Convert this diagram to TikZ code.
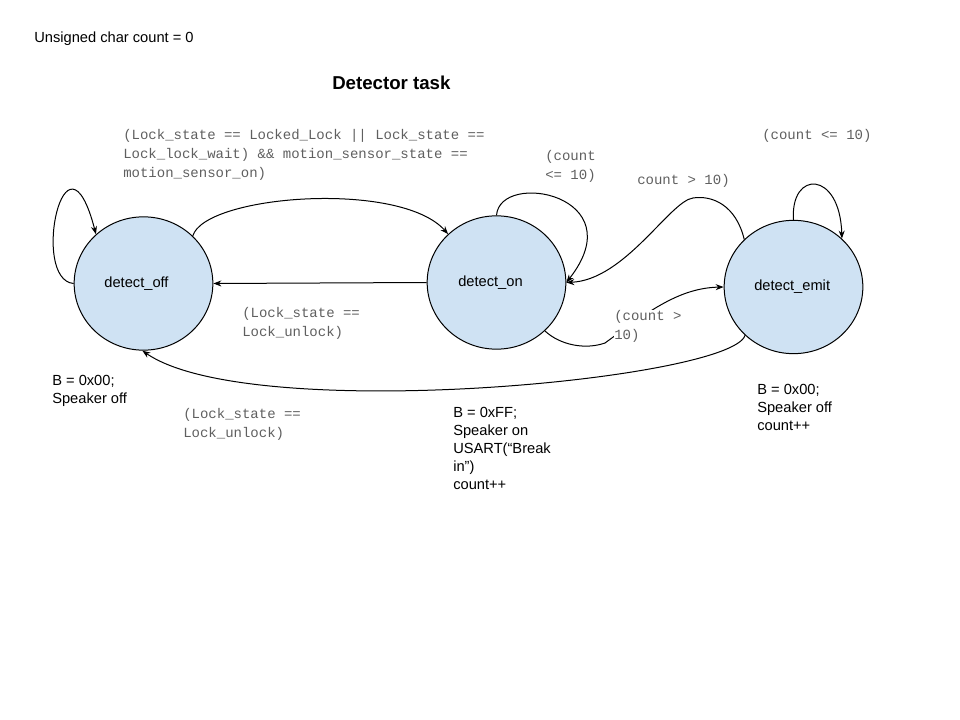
\documentclass[tikz,border=0pt]{standalone}
\usepackage{fontspec}
\setmainfont{Liberation Sans}
\newfontfamily\codefont{Liberation Mono}
\usetikzlibrary{shapes.geometric,arrows.meta}
\definecolor{statefill}{HTML}{CFE2F3}
\definecolor{codegray}{HTML}{5F5F5F}
\begin{document}
\begin{tikzpicture}[x=0.75pt,y=-0.75pt,
  state/.style={ellipse,draw,fill=statefill,line width=0.75pt,minimum width=104pt,minimum height=100pt,inner sep=0pt,font={\fontsize{11}{13.5}\selectfont}},
  act/.style={anchor=north west,inner sep=0pt,align=left,font={\fontsize{11}{13.5}\selectfont}},
  guard/.style={anchor=north west,inner sep=0pt,align=left,text=codegray,font={\codefont\fontsize{10.5}{14.25}\selectfont}},
  trans/.style={-{Stealth[length=6pt,width=4.5pt]},line width=0.75pt}]
\useasboundingbox (0,0) rectangle (960,720);
% titles
\node[act] (count) at (34,31.5) {Unsigned char count = 0};
\node[anchor=west,inner sep=0pt,font={\fontsize{14}{16}\selectfont\bfseries}] (task) at (332,83) {Detector task};
% states (text a bit left of centre, as drawn)
\foreach \nm/\x/\y/\dx/\txt in {off/143.5/283.5/-10.5/detect\_off,on/496.5/282.5/-9/detect\_on,emit/793.5/287/-2/detect\_emit} {
  \node[state] (\nm) at (\x,\y) {\hspace{\dx pt}\txt};
}
% transitions
\draw[trans] (off.180) .. controls (30,280) and (65,115) .. (off.134);
\draw[trans] (off.44) .. controls (205,195) and (400,180) .. (on.135);
\draw[trans] (on.180) -- (off.0);
\draw[trans] (on.90) .. controls (500,170) and (635,195) .. (on.0);
\draw[trans] (emit.136) .. controls (736,205) and (712,195) .. (693,198) .. controls (670,201) and (625,280) .. (on.0);
\draw[trans] (on.-45) .. controls (560,345) and (585,350) .. (605,343) .. controls (650,310) and (680,288) .. (emit.180);
\draw[trans] (emit.225) .. controls (730,380) and (250,425) .. (off.269);
\draw[trans] (emit.90) .. controls (790,170) and (840,170) .. (emit.45);
% guards
\node[guard] (lock) at (123,129) {(Lock\_state == Locked\_Lock || Lock\_state ==\\Lock\_lock\_wait) \&\& motion\_sensor\_state ==\\motion\_sensor\_on)};
\node[guard] (unlocka) at (242,307) {(Lock\_state ==\\Lock\_unlock)};
\node[guard] (onloop) at (545,150) {(count\\<= 10)};
\node[guard] (back) at (637,174) {count > 10)};
\node[guard] (emitloop) at (762,129) {(count <= 10)};
\node[guard,fill=white] (up) at (614,310) {(count >\\10)};
\node[guard] (unlockb) at (183,408) {(Lock\_state ==\\Lock\_unlock)};
% actions
\node[act] (offact) at (52,374.5) {B = 0x00;\\Speaker off};
\node[act] (onact) at (453,406.5) {B = 0xFF;\\Speaker on\\USART(“Break\\in”)\\count++};
\node[act] (emitact) at (757,383.5) {B = 0x00;\\Speaker off\\count++};
\end{tikzpicture}
\end{document}
